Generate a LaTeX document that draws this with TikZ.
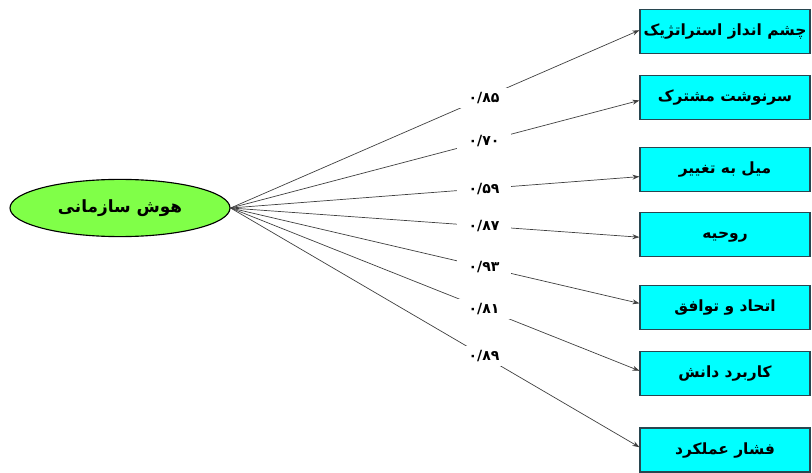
\documentclass[tikz,border=0pt]{standalone}
\usepackage{fontspec}
\usetikzlibrary{shapes.geometric,arrows.meta}
\TeXXeTstate=1
\newfontfamily\farsi[Script=Arabic]{DejaVu Sans}
\definecolor{leafgreen}{RGB}{128,255,72}
\definecolor{boxcyan}{RGB}{0,255,255}
\definecolor{boxedge}{RGB}{40,70,80}

\begin{document}
\begin{tikzpicture}[font=\farsi\bfseries,
    factor/.style={draw=boxedge, thick, fill=boxcyan, minimum width=4.25cm, minimum height=1.1cm, inner xsep=2pt,
      text height=0.85em, text depth=0.25em, font=\farsi\bfseries\fontsize{11}{13}\selectfont},
    coef/.style={fill=white, inner xsep=8pt, inner ysep=3pt, font=\farsi\bfseries\normalsize, pos=0.62},
    load/.style={-{Stealth[length=5pt,width=3.5pt]}, draw=black!75, line width=0.5pt}]
      \useasboundingbox (0,0) rectangle (20.3,11.8);
      \node[ellipse, draw, thick, fill=leafgreen, minimum width=5.5cm, minimum height=1.43cm, font=\farsi\bfseries\large] (hoosh) at (3.0,6.6) {\beginR هوش سازمانی\endR};
      \node[factor] (f1) at (18.125,11.01) {\beginR چشم انداز استراتژیک\endR};
      \node[factor] (f2) at (18.125,9.36) {\beginR سرنوشت مشترک\endR};
      \node[factor] (f3) at (18.125,7.56) {\beginR میل به تغییر\endR};
      \node[factor] (f4) at (18.125,5.94) {\beginR روحیه\endR};
      \node[factor] (f5) at (18.125,4.11) {\beginR اتحاد و توافق\endR};
      \node[factor] (f6) at (18.125,2.46) {\beginR کاربرد دانش\endR};
      \node[factor] (f7) at (18.125,0.55) {\beginR فشار عملکرد\endR};
      \draw[load] (hoosh.east) -- node[coef] {۰/۸۵} ([yshift=1pt]f1.west);
      \draw[load] (hoosh.east) -- node[coef] {۰/۷۰} ([yshift=-2pt]f2.west);
      \draw[load] (hoosh.east) -- node[coef] {۰/۵۹} ([yshift=-5pt]f3.west);
      \draw[load] (hoosh.east) -- node[coef] {۰/۸۷} ([yshift=-2pt]f4.west);
      \draw[load] (hoosh.east) -- node[coef] {۰/۹۳} ([yshift=3pt]f5.west);
      \draw[load] (hoosh.east) -- node[coef] {۰/۸۱} ([yshift=2pt]f6.west);
      \draw[load] (hoosh.east) -- node[coef] {۰/۸۹} ([yshift=2pt]f7.west);
\end{tikzpicture}
\end{document}
